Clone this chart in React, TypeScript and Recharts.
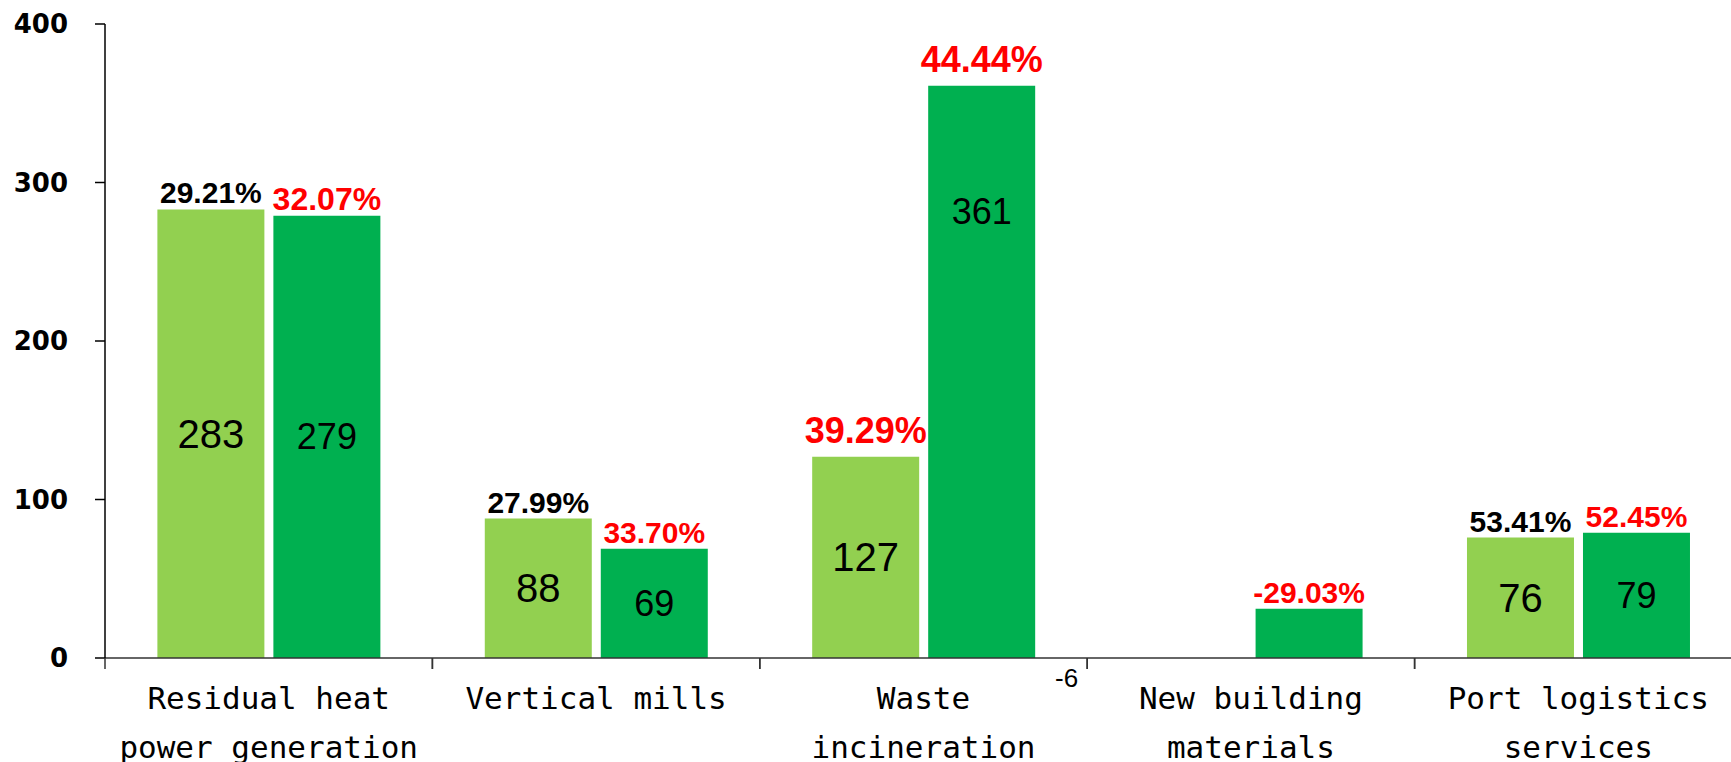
import React from "react";
import { Bar, BarChart, LabelList, XAxis, YAxis } from "recharts";

// values
const categories = [
  "Residual heat\npower generation",
  "Vertical mills",
  "Waste\nincineration",
  "New building\nmaterials",
  "Port logistics\nservices"
];
const priorValues = [283, 88, 127, -6, 76];
const currentValues = [279, 69, 361, 31, 79];
const priorMargins = ["29.21%", "27.99%", "39.29%", "", "53.41%"];
const currentMargins = ["32.07%", "33.70%", "44.44%", "-29.03%", "52.45%"];
const yTicks = [0, 100, 200, 300, 400];

// label styling, kept apart from the data
const RED = "#ff0000";
const priorPctStyle: Record<number, { fill: string; size: number }> = {
  2: { fill: RED, size: 36 }
};
const currentPctStyle: Record<number, { fill: string; size: number }> = {
  0: { fill: RED, size: 32 },
  2: { fill: RED, size: 36 }
};

const CHART_W = 1750;
const CHART_H = 762;
const Y_AXIS_W = 105;
const MARGIN = { top: 24, right: 8, left: 0, bottom: 0 };
const BAND = (CHART_W - MARGIN.left - MARGIN.right - Y_AXIS_W) / categories.length;

const data = categories.map((name, i) => ({
  name,
  prior: priorValues[i],
  current: currentValues[i],
  priorPct: priorMargins[i],
  currentPct: currentMargins[i]
}));

function CategoryTick(props: any) {
  const { x, y, payload } = props;
  const lines = String(payload.value).split("\n");
  const left = x - BAND / 2;
  return (
    <g>
      <line x1={left} x2={left} y1={y} y2={y + 11} stroke="#333" strokeWidth={1.5} />
      <line x1={left + BAND} x2={left + BAND} y1={y} y2={y + 11} stroke="#333" strokeWidth={1.5} />
      {lines.map((line, i) => (
        <text
          key={i}
          x={x}
          y={y + 51 + i * 49}
          textAnchor="middle"
          fill="#000"
          fontFamily="'DejaVu Sans Mono', monospace"
          fontSize={31}
        >
          {line}
        </text>
      ))}
    </g>
  );
}

function makeValueLabel(fontSize: number) {
  return (props: any) => {
    const { x, y, width, height, value } = props;
    if (value === undefined || value === null) return null;
    const top = Math.min(y, y + height);
    const h = Math.abs(height);
    if (value < 0) {
      return (
        <text x={x - 73} y={top + 20} textAnchor="middle" dominantBaseline="central"
          fontFamily="'Liberation Sans', Arial, sans-serif" fontSize={26} fill="#000">
          {value}
        </text>
      );
    }
    // short bars carry no value inside
    if (h < 60) return null;
    const cy = h > 500 ? top + h * 0.22 : top + h / 2;
    return (
      <text x={x + width / 2} y={cy} textAnchor="middle" dominantBaseline="central"
        fontFamily="'Liberation Sans', Arial, sans-serif" fontSize={fontSize} fill="#000">
        {value}
      </text>
    );
  };
}

function makePctLabel(styles: Record<number, { fill: string; size: number }>, baseFill: string) {
  return (props: any) => {
    const { x, y, width, height, value, index } = props;
    if (!value) return null;
    const top = Math.min(y, y + height);
    const st = styles[index] || { fill: baseFill, size: 30 };
    const gap = st.size >= 36 ? 14 : 6;
    return (
      <text x={x + width / 2} y={top - gap} textAnchor="middle"
        fontFamily="'Liberation Sans', Arial, sans-serif" fontWeight="bold"
        fontSize={st.size} fill={st.fill}>
        {value}
      </text>
    );
  };
}

export default function App() {
  return (
    <div
      style={{
        position: "fixed",
        left: 0,
        top: 0,
        width: 1731,
        height: CHART_H,
        overflow: "hidden",
        background: "#fff"
      }}
    >
      <BarChart
        width={CHART_W}
        height={CHART_H}
        data={data}
        margin={MARGIN}
        barGap={9}
        barCategoryGap="16%"
      >
        <XAxis
          dataKey="name"
          interval={0}
          tickSize={0}
          tickMargin={0}
          height={104}
          tick={<CategoryTick />}
          axisLine={{ stroke: "#333", strokeWidth: 1.5 }}
          tickLine={false}
        />
        <YAxis
          width={Y_AXIS_W}
          domain={[0, 400]}
          ticks={yTicks}
          allowDataOverflow
          tickSize={10}
          tickMargin={27}
          axisLine={{ stroke: "#000", strokeWidth: 1.5 }}
          tickLine={{ stroke: "#000", strokeWidth: 1.5 }}
          tick={{
            fill: "#000",
            fontSize: 26,
            fontWeight: "bold",
            fontFamily: "'DejaVu Sans', sans-serif"
          }}
        />
        <Bar dataKey="prior" fill="#92d050" isAnimationActive={false}>
          <LabelList dataKey="prior" content={makeValueLabel(40)} />
          <LabelList dataKey="priorPct" content={makePctLabel(priorPctStyle, "#000")} />
        </Bar>
        <Bar dataKey="current" fill="#00b050" isAnimationActive={false}>
          <LabelList dataKey="current" content={makeValueLabel(36)} />
          <LabelList dataKey="currentPct" content={makePctLabel(currentPctStyle, RED)} />
        </Bar>
      </BarChart>
    </div>
  );
}
